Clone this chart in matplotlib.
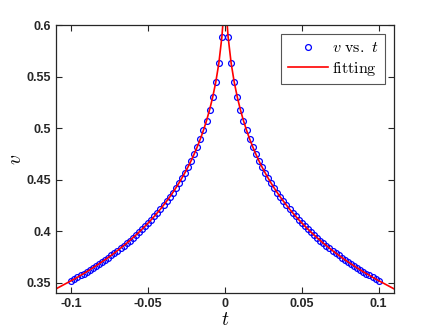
import matplotlib
matplotlib.use("Agg")
import matplotlib.pyplot as plt
import numpy as np

plt.rcParams['mathtext.fontset'] = 'cm'

# measured points, t > 0 (step 0.002)
t_right = [0.002, 0.004, 0.006, 0.008, 0.010, 0.012, 0.014, 0.016, 0.018, 0.020,
           0.022, 0.024, 0.026, 0.028, 0.030, 0.032, 0.034, 0.036, 0.038, 0.040,
           0.042, 0.044, 0.046, 0.048, 0.050, 0.052, 0.054, 0.056, 0.058, 0.060,
           0.062, 0.064, 0.066, 0.068, 0.070, 0.072, 0.074, 0.076, 0.078, 0.080,
           0.082, 0.084, 0.086, 0.088, 0.090, 0.092, 0.094, 0.096, 0.098, 0.100]
v_right = [0.5888, 0.5630, 0.5446, 0.5301, 0.5179, 0.5073, 0.4980, 0.4896, 0.4820, 0.4750,
           0.4685, 0.4625, 0.4569, 0.4516, 0.4466, 0.4419, 0.4374, 0.4331, 0.4291, 0.4252,
           0.4214, 0.4179, 0.4144, 0.4111, 0.4079, 0.4049, 0.4019, 0.3990, 0.3962, 0.3935,
           0.3909, 0.3883, 0.3859, 0.3835, 0.3811, 0.3788, 0.3766, 0.3744, 0.3723, 0.3703,
           0.3683, 0.3663, 0.3644, 0.3625, 0.3606, 0.3588, 0.3571, 0.3553, 0.3536, 0.3520]

# curve is symmetric about t = 0
t_left = [-x for x in t_right[::-1]]
v_left = v_right[::-1]
t_data = t_left + t_right
v_data = v_left + v_right

# fitted curve: data positions plus peak and end values
fit_t = [-0.11] + t_left + [-0.001, 0.0, 0.001] + t_right + [0.11]
fit_v = [0.344] + v_left + [0.6086, 0.662, 0.6086] + v_right + [0.344]

xticks = [-0.1, -0.05, 0, 0.05, 0.1]
xticklabels = ['-0.1', '-0.05', '0', '0.05', '0.1']
yticks = [0.35, 0.4, 0.45, 0.5, 0.55, 0.6]
yticklabels = ['0.35', '0.4', '0.45', '0.5', '0.55', '0.6']

fig = plt.figure(figsize=(4.36, 3.34), dpi=100)
ax = fig.add_axes([0.1284, 0.1228, 0.7753, 0.8023])

ax.plot(t_data, v_data, 'o', mfc='none', mec='blue', ms=4.2, mew=0.9,
        label=r'$v\ \mathrm{vs.}\ t$')
ax.plot(fit_t, fit_v, '-', color='red', lw=1.2, label=r'$\mathrm{fitting}$')

ax.set_xlim(-0.11, 0.11)
ax.set_ylim(0.34, 0.6)
ax.set_xticks(xticks)
ax.set_xticklabels(xticklabels)
ax.set_yticks(yticks)
ax.set_yticklabels(yticklabels)

gray = '#262626'
for lab in ax.get_xticklabels() + ax.get_yticklabels():
    lab.set_fontweight('bold')
    lab.set_fontfamily('Liberation Sans')
    lab.set_fontsize(9)
    lab.set_color(gray)
ax.tick_params(direction='in', top=True, right=True, length=4, width=0.8, colors=gray)
for s in ax.spines.values():
    s.set_color(gray)
    s.set_linewidth(0.9)

ax.set_xlabel(r'$t$', fontsize=14, labelpad=0)
ax.set_ylabel(r'$v$', fontsize=14, labelpad=1)

leg = ax.legend(loc='upper right', fontsize=11.5, fancybox=False, framealpha=1,
                edgecolor='#555555', borderaxespad=0.55, handlelength=2.5,
                handletextpad=0.3, borderpad=0.4, labelspacing=0.3)
leg.get_frame().set_linewidth(0.8)

fig.savefig('out.png', dpi=100)
